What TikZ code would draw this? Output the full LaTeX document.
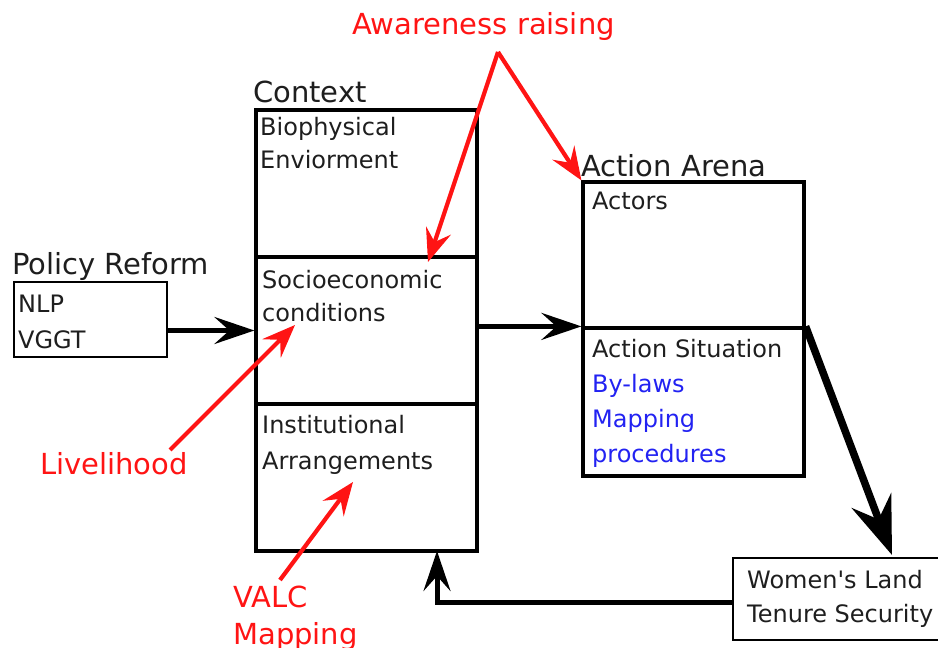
\documentclass[tikz,border=0pt]{standalone}
\usepackage{fontspec}
\setmainfont{DejaVu Sans}
\usetikzlibrary{arrows.meta}
\definecolor{ink}{HTML}{1E1E1E}
\definecolor{note}{HTML}{FF1414}
\definecolor{rule}{HTML}{2222F2}

\begin{document}
\begin{tikzpicture}[x=1pt,y=1pt,
    panel/.style={draw=black,line width=3.2pt,minimum width=221pt,inner sep=0pt},
    body/.style={text=ink,inner sep=0pt,align=left,anchor=north west,
                 font=\fontsize{24}{33}\selectfont},
    title/.style={text=ink,inner sep=0pt,anchor=base west,font=\fontsize{29}{35}\selectfont},
    remark/.style={text=note,inner sep=0pt,font=\fontsize{29}{37}\selectfont},
    flow/.style={line width=5pt,-{Stealth[length=40pt,width=27pt,inset=15pt]}},
    hint/.style={note,line width=4.2pt,-{Stealth[length=33pt,width=26pt,inset=12pt]}}]
    \useasboundingbox (0,0) rectangle (938,648);
    % context column
    \node[panel,minimum height=147pt] (bio) at (366.5,464.5) {};
    \node[panel,minimum height=147pt] (socio) at (366.5,317.5) {};
    \node[panel,minimum height=147pt] (inst) at (366.5,170.5) {};
    % action arena
    \node[panel,minimum height=146pt] (actors) at (693.5,393) {};
    \node[panel,minimum height=148pt] (situation) at (693.5,246) {};
    % input and outcome
    \node[panel,line width=2.6pt,minimum width=153pt,minimum height=75pt] (policy) at (90.5,328.5) {};
    \node[panel,line width=2.8pt,minimum width=214pt,minimum height=82pt] (women) at (840,49) {};
    % headings and box texts
    \node[title] (policyhead) at (12,373) {Policy Reform};
    \node[body,font=\fontsize{24}{36}\selectfont] (policytext) at (18,353.5) {NLP\\VGGT};
    \node[title] (contexthead) at (253,545) {Context};
    \node[body] (biotext) at (260,531) {Biophysical\\Enviorment};
    \node[body] (sociotext) at (262,378) {Socioeconomic\\conditions};
    \node[body,font=\fontsize{24}{36}\selectfont] (insttext) at (262,233) {Institutional\\Arrangements};
    \node[title] (arenahead) at (581,471) {Action Arena};
    \node[body,anchor=base west] (actorstext) at (592,438) {Actors};
    \node[body,font=\fontsize{24}{35}\selectfont] (situationtext) at (592,309)
        {Action Situation\\\textcolor{rule}{By-laws}\\\textcolor{rule}{Mapping}\\\textcolor{rule}{procedures}};
    \node[body,font=\fontsize{24}{34}\selectfont] (womentext) at (747,78)
        {Women\textquotesingle s Land\\Tenure Security};
    % red remarks
    \node[remark,anchor=base west] (awareness) at (352,613) {Awareness raising};
    \node[remark,anchor=base west] (livelihood) at (40,173) {Livelihood};
    \node[remark,anchor=north west,align=left] (valc) at (233,62) {VALC\\Mapping};
    \coordinate (peak) at (498,596);
    \coordinate (sociohit) at (428,386);
    \coordinate (livefoot) at (170,198);
    \coordinate (livehit) at (295,323);
    \coordinate (valcfoot) at (280,68);
    \coordinate (valchit) at (353,166);
    \coordinate (womentop) at (892,93);
    \coordinate (womenside) at (733,45);
    \coordinate (instback) at (437,97);
    % flows
    \draw[flow] (policy.east |- socio.west) -- (socio.west);
    \draw[flow] (socio.east |- situation.north west) -- (situation.north west);
    \draw[line width=7.5pt,-{Stealth[length=58pt,width=42pt,inset=20pt]}]
        (situation.north east) -- (womentop);
    \draw[flow] (womenside) -| (instback);
    \draw[hint] (peak) -- (sociohit);
    \draw[hint] (peak) -- (actors.north west);
    \draw[hint] (livefoot) -- (livehit);
    \draw[hint] (valcfoot) -- (valchit);
\end{tikzpicture}
\end{document}
